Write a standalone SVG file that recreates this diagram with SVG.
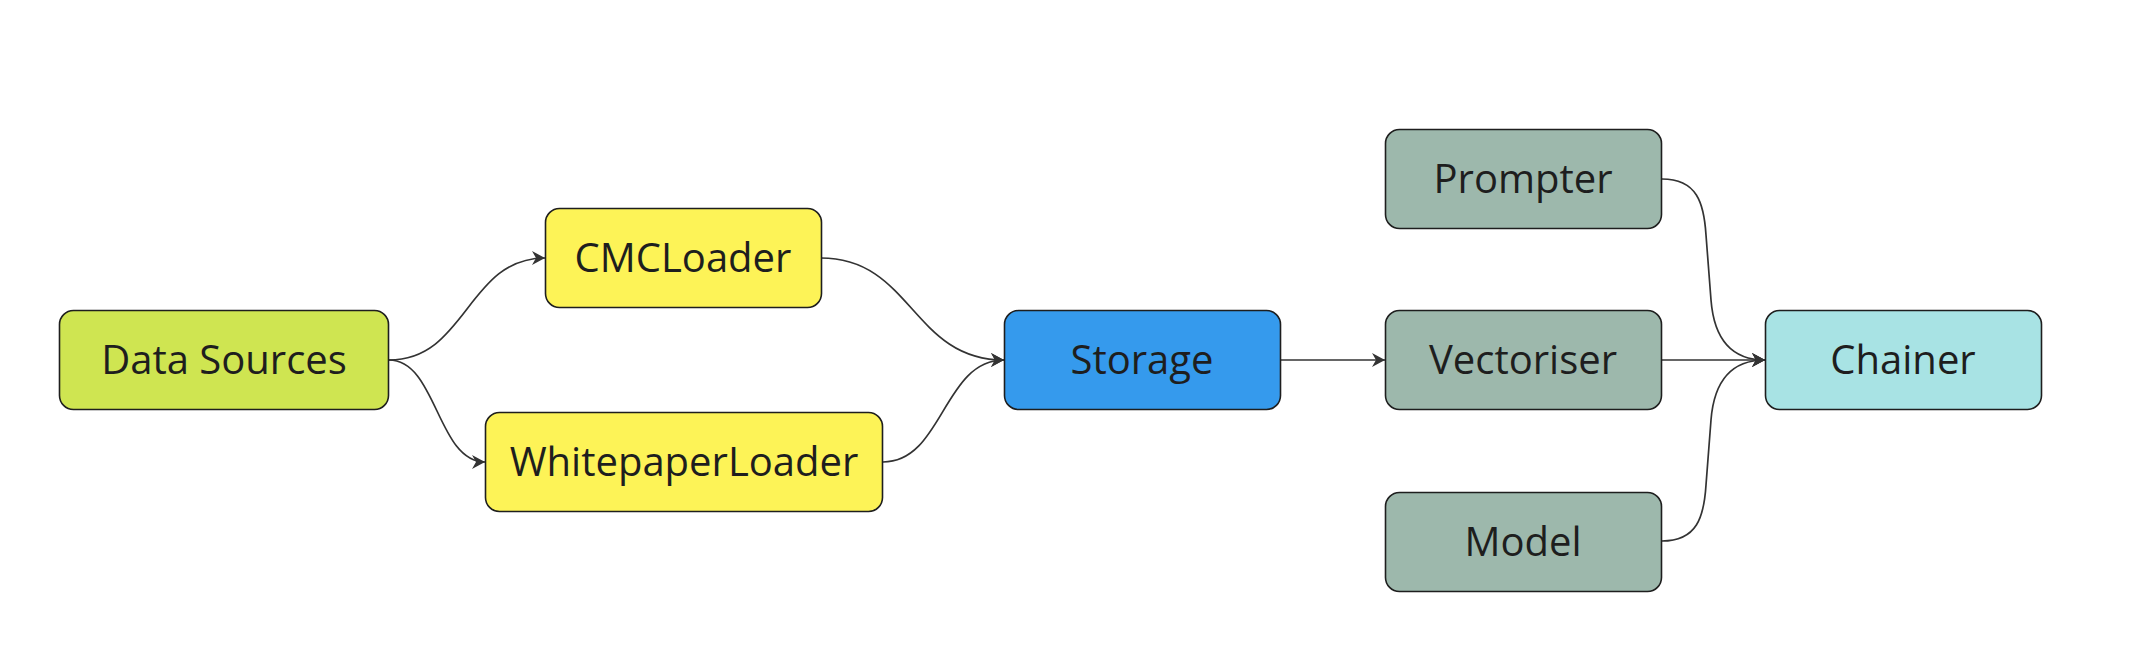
<svg xmlns="http://www.w3.org/2000/svg" width="2154" height="650" viewBox="0 0 2154 650">
  <style>
    .node rect { stroke: #1e1e1e; stroke-width: 1.6; }
    .node text { font-family: "Open Sans", "Noto Sans", "DejaVu Sans", sans-serif; font-size: 40px; fill: #1e1e1e; text-anchor: middle; }
    .edge { fill: none; stroke: #333333; stroke-width: 1.7; marker-end: url(#arrow); }
  </style>
  <defs>
    <marker id="arrow" markerUnits="userSpaceOnUse" markerWidth="14" markerHeight="14" refX="13" refY="7" orient="auto">
      <path d="M0,0 L13,7 L0,14 L4,7 Z" fill="#333333"/>
    </marker>
  </defs>
  <rect width="2154" height="650" fill="#ffffff"/>
  <g id="connectors">
    <path class="edge" d="M389,360 C467,360 467,258 545,258"/>
    <path class="edge" d="M389,360 C437,360 437,462 485,462"/>
    <path class="edge" d="M821,258 C912,258 912,360 1004,360"/>
    <path class="edge" d="M883,462 C943,462 943,360 1004,360"/>
    <path class="edge" d="M1281,360 L1385,360"/>
    <path class="edge" d="M1662,179 C1697,179 1704,203 1706,235 L1711,300 C1714,338 1730,360 1765,360"/>
    <path class="edge" d="M1662,360 L1765,360"/>
    <path class="edge" d="M1662,541 C1697,541 1704,517 1706,485 L1711,420 C1714,382 1730,360 1765,360"/>
  </g>
  <g id="data-sources" class="node">
    <rect x="59.5" y="310.5" width="329" height="99" rx="14" fill="#cfe551"/>
    <text x="224" y="374">Data Sources</text>
  </g>
  <g id="cmcloader" class="node">
    <rect x="545.5" y="208.5" width="276" height="99" rx="14" fill="#fdf357"/>
    <text x="683" y="272">CMCLoader</text>
  </g>
  <g id="whitepaperloader" class="node">
    <rect x="485.5" y="412.5" width="397" height="99" rx="14" fill="#fdf357"/>
    <text x="684" y="476">WhitepaperLoader</text>
  </g>
  <g id="storage" class="node">
    <rect x="1004.5" y="310.5" width="276" height="99" rx="14" fill="#359aed"/>
    <text x="1142" y="374">Storage</text>
  </g>
  <g id="prompter" class="node">
    <rect x="1385.5" y="129.5" width="276" height="99" rx="14" fill="#9db8ac"/>
    <text x="1523" y="193">Prompter</text>
  </g>
  <g id="vectoriser" class="node">
    <rect x="1385.5" y="310.5" width="276" height="99" rx="14" fill="#9db8ac"/>
    <text x="1523" y="374">Vectoriser</text>
  </g>
  <g id="model" class="node">
    <rect x="1385.5" y="492.5" width="276" height="99" rx="14" fill="#9db8ac"/>
    <text x="1523" y="556">Model</text>
  </g>
  <g id="chainer" class="node">
    <rect x="1765.5" y="310.5" width="276" height="99" rx="14" fill="#a8e3e4"/>
    <text x="1903" y="374">Chainer</text>
  </g>
</svg>
